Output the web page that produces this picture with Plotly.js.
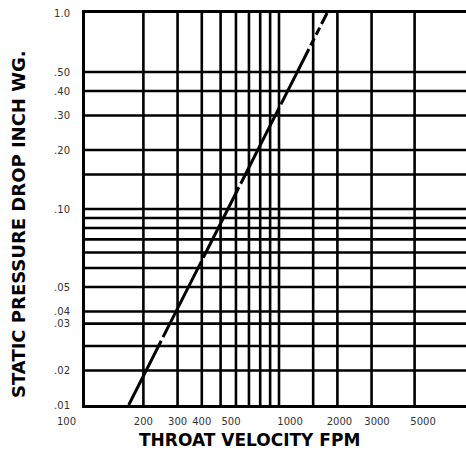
<!DOCTYPE html>
<html>
<head>
<meta charset="utf-8">
<script src="https://cdn.plot.ly/plotly-3.0.1.min.js"></script>
<style>
html, body { margin: 0; padding: 0; overflow: hidden; background: #fff; }
#chart { width: 480px; height: 451px; }
</style>
</head>
<body>
<div id="chart"></div>
<script>
// Curve: throat velocity (FPM) vs static pressure drop (inch WG)
const curveVelocity = [168, 1770];
const curvePressure = [0.01, 1.0];

// Grid lines
const xGridValues = [200, 300, 400, 500, 600, 700, 800, 900, 1000, 1500, 2000, 3000, 5000];
const yGridValues = [0.5, 0.4, 0.3, 0.2, 0.15, 0.1, 0.09, 0.08, 0.07, 0.06, 0.05, 0.04, 0.03, 0.026, 0.02, 0.015];

// Tick labels as printed (positions where they appear)
const xTickValues = [200, 300, 400, 566, 1140, 2050, 3200, 5525];
const xTickText = ["200", "300", "400", "500", "1000", "2000", "3000", "5000"];
const xFirstLabel = "100";
const yTickValues = [1.0, 0.5, 0.4, 0.3, 0.2, 0.1, 0.04, 0.03, 0.026, 0.015, 0.01];
const yTickText = ["1.0", ".50", ".40", ".30", ".20", ".10", ".05", ".04", ".03", ".02", ".01"];

const xMin = 100, xMax = 10000, yMin = 0.01, yMax = 1.0;

const gx = [], gy = [];
xGridValues.forEach(v => { gx.push(v, v, null); gy.push(yMin, yMax, null); });
yGridValues.forEach(v => { gx.push(xMin, xMax, null); gy.push(v, v, null); });

const tickFont = { family: "DejaVu Sans, sans-serif", size: 10, color: "#333" };
const yTitleFont = { family: "DejaVu Sans, sans-serif", size: 18, color: "#000", weight: "bold" };
const xTitleFont = { family: "DejaVu Sans, sans-serif", size: 17, color: "#000", weight: "bold" };

const data = [
  {
    x: gx, y: gy, mode: "lines", type: "scatter", hoverinfo: "skip",
    line: { color: "#000", width: 2.6 }, connectgaps: false, showlegend: false
  },
  {
    x: curveVelocity, y: curvePressure, mode: "lines", type: "scatter",
    line: { color: "#000", width: 3, dash: "72px,4px,85px,4px,79px,4px,85px,4px,62px,4px,8px,4px,8px,4px,120px" },
    showlegend: false
  }
];

const layout = {
  width: 480, height: 451,
  margin: { l: 85, r: 7, t: 13, b: 46 },
  paper_bgcolor: "#fff", plot_bgcolor: "#fff",
  showlegend: false,
  xaxis: {
    type: "log", range: [Math.log10(xMin), Math.log10(xMax)],
    tickmode: "array", tickvals: xTickValues, ticktext: xTickText,
    showgrid: false, zeroline: false,
    showline: true, mirror: true, linecolor: "#000", linewidth: 3,
    ticks: "outside", ticklen: 5, tickcolor: "rgba(0,0,0,0)",
    tickfont: tickFont, fixedrange: true
  },
  yaxis: {
    type: "log", range: [Math.log10(yMin), Math.log10(yMax)],
    tickmode: "array", tickvals: yTickValues, ticktext: yTickText,
    showgrid: false, zeroline: false,
    showline: true, mirror: true, linecolor: "#000", linewidth: 3,
    ticks: "outside", ticklen: 10, tickcolor: "rgba(0,0,0,0)",
    tickfont: tickFont, fixedrange: true
  },
  annotations: [
    {
      text: xFirstLabel, xref: "paper", yref: "paper", x: 0, y: 0,
      xanchor: "center", yanchor: "middle", xshift: -19, yshift: -16,
      showarrow: false, font: tickFont
    },
    {
      text: "STATIC PRESSURE DROP INCH WG.", xref: "paper", yref: "paper",
      x: 0, y: 0.5, xanchor: "center", yanchor: "middle", xshift: -67, yshift: -15,
      textangle: -90, showarrow: false, font: yTitleFont
    },
    {
      text: "THROAT VELOCITY FPM", xref: "paper", yref: "paper",
      x: 0.425, y: 0, xanchor: "center", yanchor: "middle", yshift: -35,
      showarrow: false, font: xTitleFont
    }
  ]
};

Plotly.newPlot("chart", data, layout, { displayModeBar: false, staticPlot: true });
</script>
</body>
</html>
